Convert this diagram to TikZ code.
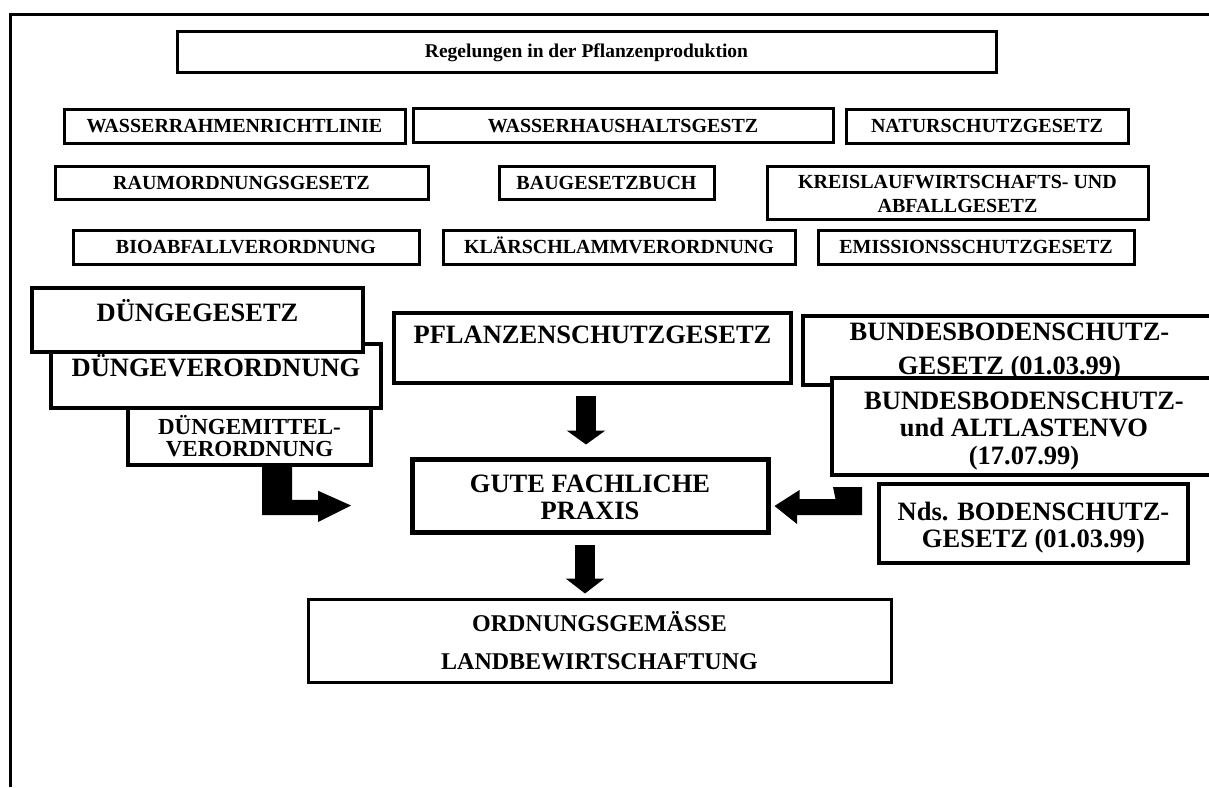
\documentclass[tikz,border=0pt]{standalone}
\usepackage{fontspec}
\setmainfont{Liberation Serif}
\usetikzlibrary{arrows.meta,calc}
\begin{document}
\begin{tikzpicture}[x=1pt,y=-1pt,
  box/.style={draw, fill=white, line width=3pt, inner sep=0pt, align=center},
  smalltxt/.style={font=\bfseries\fontsize{20}{24}\selectfont, text height=13.3pt, text depth=0pt},
  bigtxt/.style={font=\bfseries\fontsize{26.5}{27}\selectfont},
  heavy/.style={line width=4pt},
  blockarrow/.style={line width=20pt, -{Triangle[width=38pt,length=14pt]}},
  toptext/.style={text height=17.5pt, text depth=#1},
]
\useasboundingbox (0,0) rectangle (1209,787);
\draw[line width=3pt] (10,787) -- (10,14.5) -- (1209,14.5);

% title
\node[box, font=\bfseries\fontsize{19.5}{22}\selectfont, text height=12.9pt, text depth=0pt, minimum width=819pt, minimum height=41pt] (title) at (586.5,51.5) {Regelungen in der Pflanzenproduktion};

% row 1
\node[box, smalltxt, minimum width=341pt, minimum height=34pt] (wr) at (234.5,126) {WASSERRAHMENRICHTLINIE};
\node[box, smalltxt, minimum width=420pt, minimum height=34pt] (wh) at (623,125.5) {WASSERHAUSHALTSGESTZ};
\node[box, smalltxt, minimum width=282pt, minimum height=34pt] (ns) at (987,126) {NATURSCHUTZGESETZ};
% row 2
\node[box, smalltxt, minimum width=373pt, minimum height=33pt] (ro) at (241.5,182.5) {RAUMORDNUNGSGESETZ};
\node[box, smalltxt, minimum width=215pt, minimum height=33pt] (bg) at (606.5,182.5) {BAUGESETZBUCH};
\node[box, font=\bfseries\fontsize{20}{24}\selectfont, minimum width=381pt, minimum height=53pt] (kl) at (957.5,192.5) {\rule{0pt}{17pt}KREISLAUFWIRTSCHAFTS- UND\\ABFALLGESETZ};
% row 3
\node[box, smalltxt, minimum width=346pt, minimum height=34pt] (bio) at (246,247) {BIOABFALLVERORDNUNG};
\node[box, smalltxt, minimum width=352pt, minimum height=34pt] (kls) at (619,247) {KLÄRSCHLAMMVERORDNUNG};
\node[box, smalltxt, minimum width=316pt, minimum height=34pt] (em) at (976,247) {EMISSIONSSCHUTZGESETZ};

% left stack
\node[box, bigtxt, heavy, toptext=16pt, minimum width=330pt, minimum height=64pt] (dvo) at (216,376) {DÜNGEVERORDNUNG};
\node[box, bigtxt, heavy, toptext=14pt, minimum width=331pt, minimum height=64pt] (dg) at (197.5,320) {DÜNGEGESETZ};
\node[box, heavy, line width=3.5pt, font=\bfseries\fontsize{23}{22}\selectfont, minimum width=243pt, minimum height=57pt] (dm) at (249.5,436.5) {DÜNGEMITTEL-\\VERORDNUNG};

% centre column
\node[box, bigtxt, heavy, toptext=26pt, minimum width=397pt, minimum height=70pt] (pfl) at (592.5,348) {PFLANZENSCHUTZGESETZ};
\node[box, bigtxt, line width=5pt, minimum width=356pt, minimum height=73pt] (gute) at (590,495.5) {\rule{0pt}{21pt}GUTE FACHLICHE\\PRAXIS};
\node[box, line width=3pt, font=\bfseries\fontsize{24}{38}\selectfont, minimum width=583pt, minimum height=83pt] (ord) at (599.5,640.5) {ORDNUNGSGEMÄSSE\\LANDBEWIRTSCHAFTUNG};

% right stack
\node[box, heavy, font=\bfseries\fontsize{26.5}{34}\selectfont, minimum width=413pt, minimum height=69pt] (b1) at (1009.5,350.5) {\rule{0pt}{20pt}BUNDESBODENSCHUTZ-\\GESETZ (01.03.99)};
\node[box, heavy, font=\bfseries\fontsize{26.5}{27.5}\selectfont, minimum width=384pt, minimum height=97pt] (b2) at (1024,426.5) {\rule{0pt}{26pt}BUNDESBODENSCHUTZ-\\und ALTLASTENVO\\(17.07.99)};
\node[box, heavy, bigtxt, minimum width=309pt, minimum height=79pt] (nds) at (1033.5,523.5) {\rule{0pt}{26.5pt}Nds. BODENSCHUTZ-\\GESETZ (01.03.99)};

% straight block arrows
\coordinate (ax1) at (586,0);
\draw[blockarrow, shorten <=11pt, shorten >=12pt] (pfl.south -| ax1) -- (gute.north -| ax1);
\coordinate (ax2) at (585,0);
\draw[line width=20pt, -{Triangle[width=38pt,length=15pt]}, shorten <=10pt, shorten >=4pt] (gute.south -| ax2) -- (ord.north -| ax2);

% bent arrow from the left stack
\coordinate (lx) at (277,0);
\coordinate (lA) at (dm.south -| lx);
\coordinate (lB) at (351,505.5);
\fill ($(lA)+(-15,0)$) -- ++(30,0) -- ++(0,33) -- ++(26,0) -- ++(0,-9) -- (lB) -- ++(-33,16.5) -- ++(0,-7) -- ++(-56,0) -- cycle;

% bent arrow from the right stack
\coordinate (rx) at (847.5,0);
\coordinate (rA) at ($(b2.south -| rx)+(0,10)$);
\coordinate (rB) at (gute.east |- 0,506);
\fill ($(rA)+(-14.5,0)$) -- ++(29,0) -- ++(0,28) -- ++(-65,0) -- ++(0,9) -- ($(rB)+(4,0)$) -- ++(25,-16) -- ++(0,9) -- ++(36,0) -- cycle;
\end{tikzpicture}
\end{document}
